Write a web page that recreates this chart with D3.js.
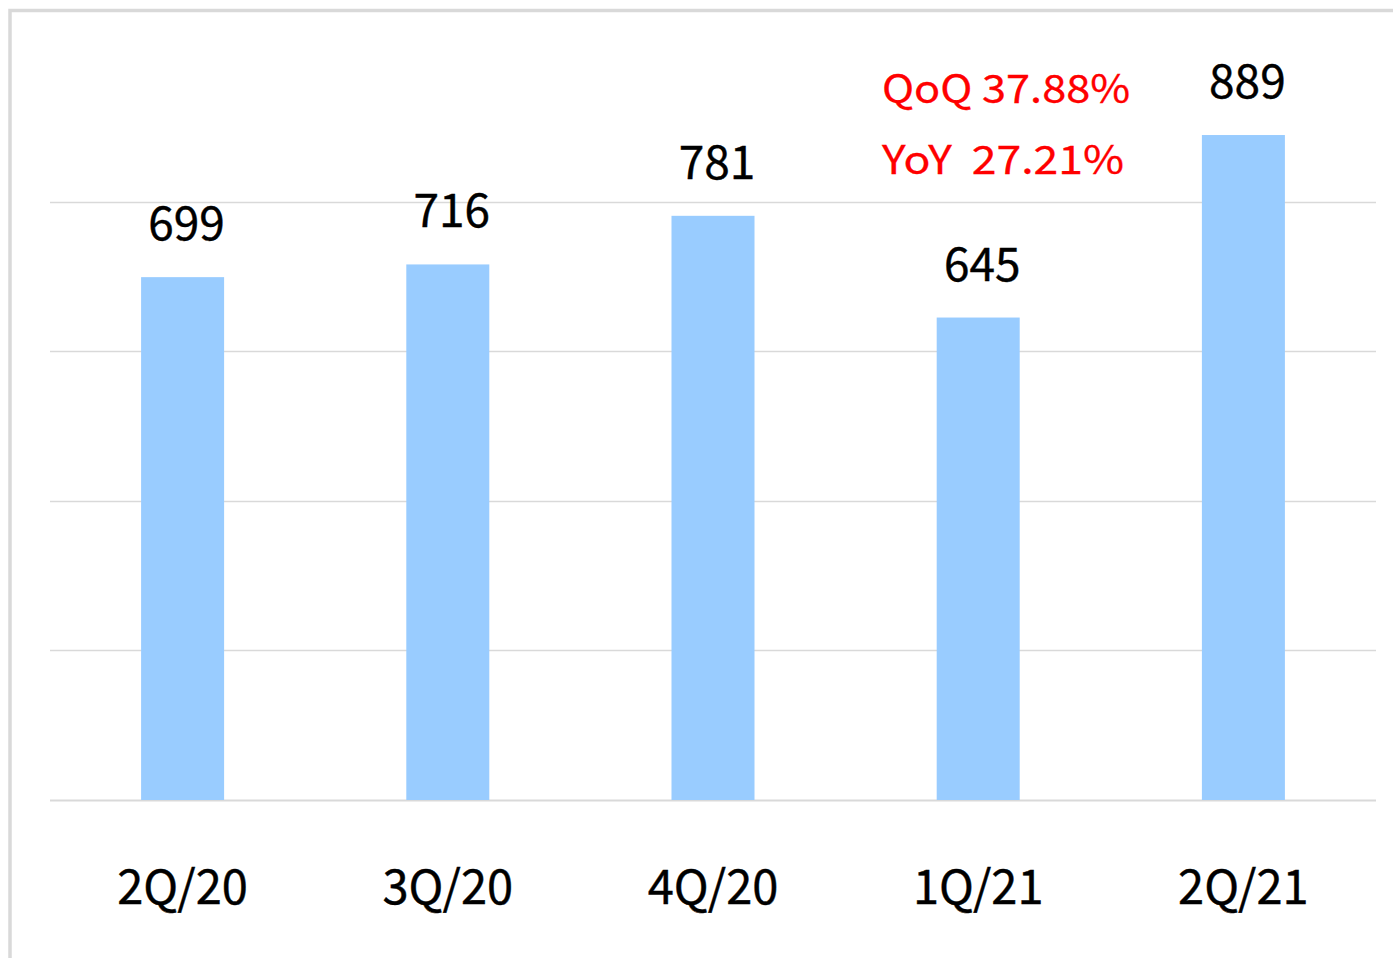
<!DOCTYPE html>
<html><head><meta charset="utf-8">
<script src="https://cdn.jsdelivr.net/npm/d3@7"></script>
<style>html,body{margin:0;padding:0;background:#fff;}svg{display:block;}</style>
</head><body>
<svg id="chart" width="1393" height="958"></svg>
<script>
const categories = ["2Q/20", "3Q/20", "4Q/20", "1Q/21", "2Q/21"];
const values = [699, 716, 781, 645, 889];
const gridTicks = [0, 200, 400, 600, 800];
const noteLines = ["QoQ 37.88%", "YoY  27.21%"];

const svg = d3.select("#chart");
const font = "'Noto Sans CJK KR', 'Noto Sans', sans-serif";

// frame
svg.append("path")
  .attr("d", "M10,958 V10.5 H1393")
  .attr("fill", "none").attr("stroke", "#d9d9d9").attr("stroke-width", 3.5);

const x = d3.scaleBand().domain(categories).range([50, 1376]).paddingInner(0.687).paddingOuter(0.3435);
const y = d3.scaleLinear().domain([0, 1000]).range([800, 52]);

// gridlines
svg.append("g").selectAll("line").data(gridTicks).join("line")
  .attr("x1", 50).attr("x2", 1376)
  .attr("y1", d => Math.round(y(d)) + 0.5).attr("y2", d => Math.round(y(d)) + 0.5)
  .attr("stroke", "#d9d9d9").attr("stroke-width", d => d === 0 ? 2 : 1.5);

// bars
svg.append("g").selectAll("rect").data(values).join("rect")
  .attr("x", (d, i) => x(categories[i]))
  .attr("width", x.bandwidth())
  .attr("y", d => y(d))
  .attr("height", d => y(0) - y(d))
  .attr("fill", "#99ccff");

// value labels
svg.append("g").selectAll("text").data(values).join("text")
  .attr("x", (d, i) => x(categories[i]) + x.bandwidth() / 2 + 4)
  .attr("y", d => y(d) - 37)
  .attr("text-anchor", "middle")
  .attr("font-family", font).attr("font-size", 46).attr("fill", "#000")
  .attr("stroke", "#000").attr("stroke-width", 0.4)
  .text(d => d);

// category labels
svg.append("g").selectAll("text").data(categories).join("text")
  .attr("x", d => x(d) + x.bandwidth() / 2)
  .attr("y", 904)
  .attr("text-anchor", "middle")
  .attr("font-family", font).attr("font-size", 47).attr("fill", "#000")
  .attr("stroke", "#000").attr("stroke-width", 0.4)
  .text(d => d);

// annotation
const noteWidths = [248, 242];
svg.append("g").selectAll("text").data(noteLines).join("text")
  .attr("x", 882).attr("y", (d, i) => 103 + i * 71)
  .attr("font-family", font).attr("font-size", 39).attr("fill", "#ff0000")
  .attr("stroke", "#ff0000").attr("stroke-width", 0.3)
  .attr("textLength", (d, i) => noteWidths[i]).attr("lengthAdjust", "spacingAndGlyphs")
  .attr("xml:space", "preserve").style("white-space", "pre")
  .text(d => d);
</script>
</body></html>
